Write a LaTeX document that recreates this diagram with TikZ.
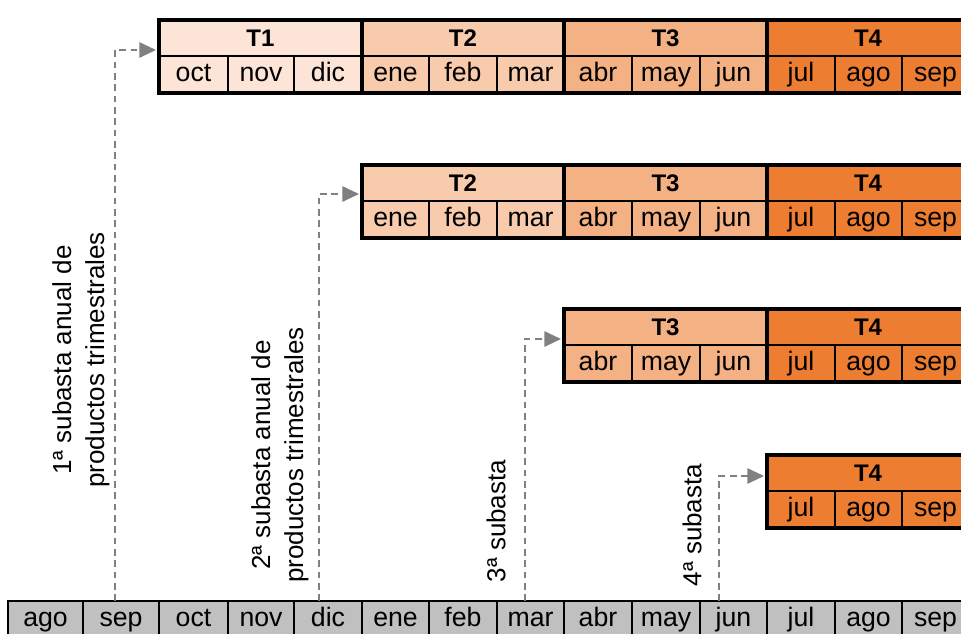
\documentclass[tikz,border=0pt]{standalone}
\usepackage{fontspec}
\setmainfont{Liberation Sans}
\usetikzlibrary{arrows.meta}
\definecolor{qa}{HTML}{FCE4D6}
\definecolor{qb}{HTML}{F8CBAD}
\definecolor{qc}{HTML}{F4B183}
\definecolor{qd}{HTML}{ED7D31}
\definecolor{barfill}{HTML}{C0C0C0}
\definecolor{conng}{HTML}{808080}
\newcommand\mkcell[8]{%
  \pgfmathsetmacro\cw{(#4-#3)*0.75}%
  \pgfmathsetmacro\ch{(#6-#5)*0.75}%
  \node[#1, fill=#7, minimum width=\cw pt, minimum height=\ch pt] (#2) at ({(#3+#4)/2},{(#5+#6)/2}) {#8};}
\def\X{{8,83,159,228,294,362,429,497,564,632,700,767,835,902,969}}
\begin{document}
\begin{tikzpicture}[x=0.75pt,y=-0.75pt,
  cell/.style={draw=black, line width=1.3pt, inner sep=0pt, outer sep=0pt, text height=14pt, text depth=4pt, font=\fontsize{20}{22}\selectfont},
  head/.style={cell, text height=12pt, text depth=0pt, font=\bfseries\fontsize{18}{20}\selectfont},
  qbox/.style={draw=black, line width=2.4pt},
  conn/.style={draw=conng, line width=1.4pt, dash pattern=on 5pt off 3.5pt, -{Triangle[length=12.5pt,width=11.5pt]}},
  lab/.style={rotate=90, align=center, inner sep=0pt, font=\fontsize{19.5}{24.75}\selectfont}]
\useasboundingbox (0,0) rectangle (961,633);
\begin{scope}
\clip (0,0) rectangle (961,633);
% bottom bar
\foreach \m [count=\i from 0] in {ago,sep,oct,nov,dic,ene,feb,mar,abr,may,jun,jul,ago,sep} {
  \pgfmathsetmacro\xa{\X[\i]}
  \pgfmathsetmacro\xb{\X[\i+1]}
  \mkcell{cell}{b\i}{\xa}{\xb}{601}{638}{barfill}{\m}
}
% tables: cells
\foreach \k/\ty in {1/20,2/165,3/309,4/455} {
  \foreach \q/\ma/\mb/\mc/\col in {1/oct/nov/dic/qa,2/ene/feb/mar/qb,3/abr/may/jun/qc,4/jul/ago/sep/qd} {
    \ifnum\q<\k\relax\else
      \pgfmathtruncatemacro\c{2+3*(\q-1)}
      \pgfmathsetmacro\xa{\X[\c]}
      \pgfmathsetmacro\xb{\X[\c+1]}
      \pgfmathsetmacro\xc{\X[\c+2]}
      \pgfmathsetmacro\xd{\X[\c+3]}
      \pgfmathsetmacro\ym{\ty+36}
      \pgfmathsetmacro\yb{\ty+73}
      \mkcell{head}{h\k\q}{\xa}{\xd}{\ty}{\ym}{\col}{T\q}
      \mkcell{cell}{m\k\q a}{\xa}{\xb}{\ym}{\yb}{\col}{\ma}
      \mkcell{cell}{m\k\q b}{\xb}{\xc}{\ym}{\yb}{\col}{\mb}
      \mkcell{cell}{m\k\q c}{\xc}{\xd}{\ym}{\yb}{\col}{\mc}
    \fi
  }
}
% tables: thick quarter outlines
\foreach \k in {1,2,3,4} {
  \foreach \q in {1,2,3,4} {
    \ifnum\q<\k\relax\else
      \draw[qbox] (h\k\q.north west) rectangle (m\k\q c.south east);
    \fi
  }
}
% connectors
\coordinate (s1) at (115,601); \coordinate (e1) at (156,50);
\coordinate (s2) at (319,601); \coordinate (e2) at (359,194);
\coordinate (s3) at (525,601); \coordinate (e3) at (561,339);
\coordinate (s4) at (719,601); \coordinate (e4) at (764,476);
\draw[conn] (s1) |- (e1);
\draw[conn] (s2) |- (e2);
\draw[conn] (s3) |- (e3);
\draw[conn] (s4) |- (e4);
% labels
\node[lab] (l1) at (81,360) {1ª subasta anual de\\productos trimestrales};
\node[lab] (l2) at (280,455) {2ª subasta anual de\\productos trimestrales};
\node[lab] (l3) at (496,521) {3ª subasta};
\node[lab] (l4) at (692,525) {4ª subasta};
\end{scope}
\end{tikzpicture}
\end{document}
